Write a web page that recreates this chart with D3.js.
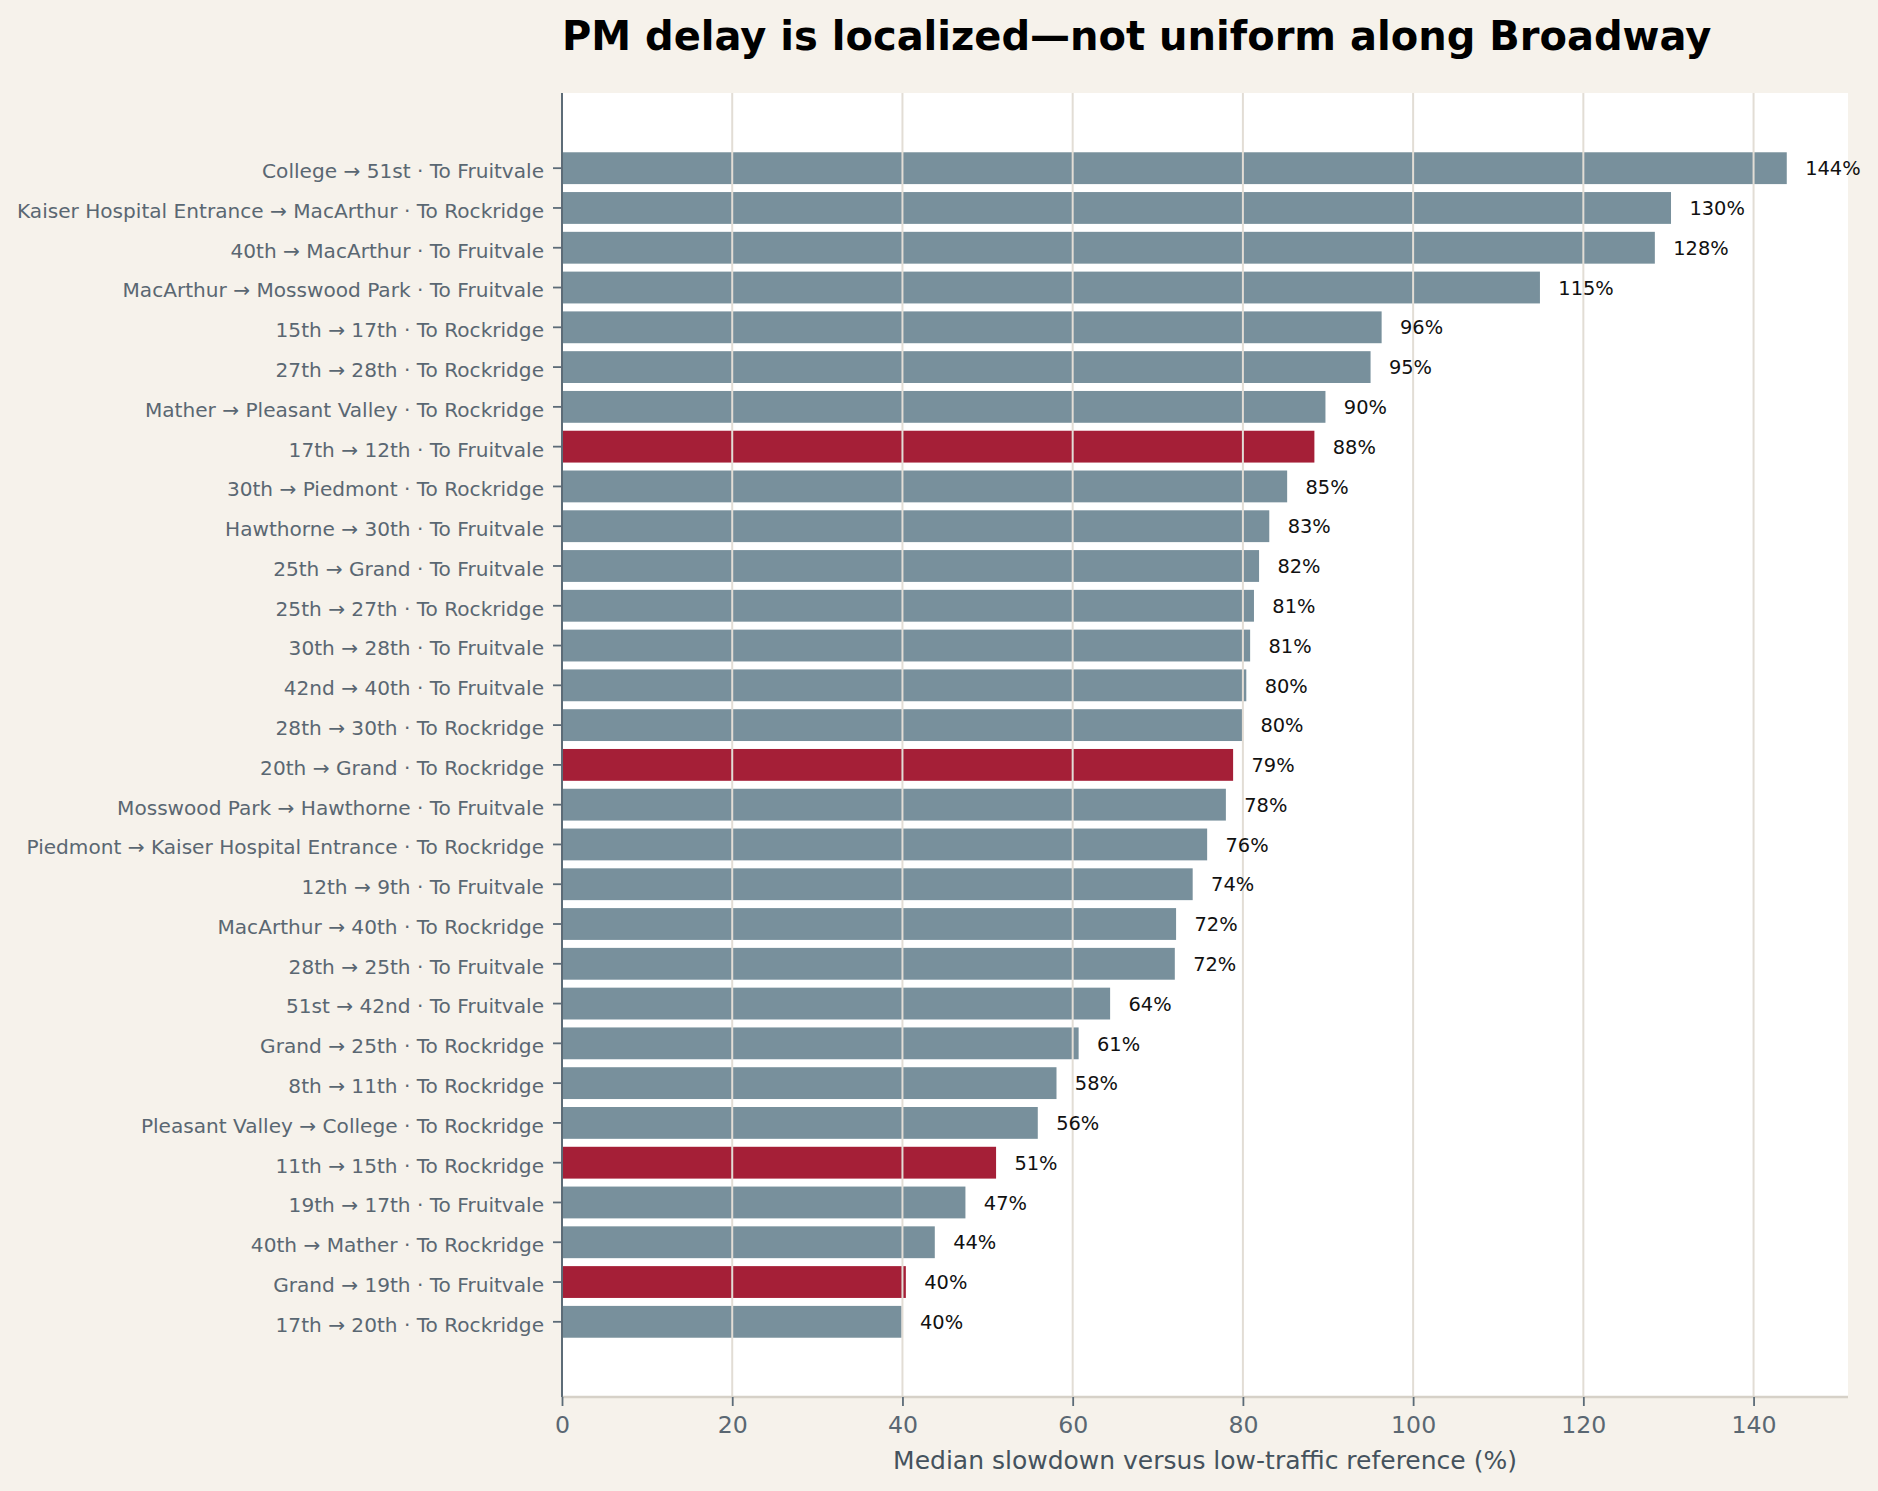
<!DOCTYPE html>
<html lang="en">
<head>
  <meta charset="UTF-8">
  <title>PM delay is localized</title>
  <script src="https://d3js.org/d3.v7.min.js"></script>
  <style>
    body {
      margin: 0;
      background-color: #f6f2eb;
      font-family: "DejaVu Sans", sans-serif;
    }
    svg { display: block; }
  </style>
</head>
<body>
  <div id="chart"></div>

  <script>
    const segments = [
      "College → 51st · To Fruitvale",
      "Kaiser Hospital Entrance → MacArthur · To Rockridge",
      "40th → MacArthur · To Fruitvale",
      "MacArthur → Mosswood Park · To Fruitvale",
      "15th → 17th · To Rockridge",
      "27th → 28th · To Rockridge",
      "Mather → Pleasant Valley · To Rockridge",
      "17th → 12th · To Fruitvale",
      "30th → Piedmont · To Rockridge",
      "Hawthorne → 30th · To Fruitvale",
      "25th → Grand · To Fruitvale",
      "25th → 27th · To Rockridge",
      "30th → 28th · To Fruitvale",
      "42nd → 40th · To Fruitvale",
      "28th → 30th · To Rockridge",
      "20th → Grand · To Rockridge",
      "Mosswood Park → Hawthorne · To Fruitvale",
      "Piedmont → Kaiser Hospital Entrance · To Rockridge",
      "12th → 9th · To Fruitvale",
      "MacArthur → 40th · To Rockridge",
      "28th → 25th · To Fruitvale",
      "51st → 42nd · To Fruitvale",
      "Grand → 25th · To Rockridge",
      "8th → 11th · To Rockridge",
      "Pleasant Valley → College · To Rockridge",
      "11th → 15th · To Rockridge",
      "19th → 17th · To Fruitvale",
      "40th → Mather · To Rockridge",
      "Grand → 19th · To Fruitvale",
      "17th → 20th · To Rockridge"
    ];

    const slowdown = [
      143.9, 130.3, 128.4, 114.9, 96.3, 95.0, 89.7, 88.4, 85.2, 83.1,
      81.9, 81.3, 80.85, 80.4, 79.9, 78.85, 78.0, 75.8, 74.1, 72.15,
      72.0, 64.4, 60.7, 58.1, 55.9, 51.0, 47.4, 43.8, 40.4, 39.9
    ];

    // segments drawn in the accent colour
    const highlighted = [
      "17th → 12th · To Fruitvale",
      "20th → Grand · To Rockridge",
      "11th → 15th · To Rockridge",
      "Grand → 19th · To Fruitvale"
    ];

    const xTicks = [0, 20, 40, 60, 80, 100, 120, 140];

    const data = segments.map((s, i) => ({ name: s, value: slowdown[i] }));

    const width = 1878, height = 1491;
    const margin = { top: 93, right: 30, bottom: 94, left: 562 };
    const plotW = width - margin.left - margin.right;
    const plotH = height - margin.top - margin.bottom;

    const svg = d3.select("#chart")
      .append("svg")
      .attr("width", width)
      .attr("height", height);

    svg.append("rect")
      .attr("width", width)
      .attr("height", height)
      .attr("fill", "#f6f2eb");

    const g = svg.append("g")
      .attr("transform", `translate(${margin.left},${margin.top})`);

    g.append("rect")
      .attr("width", plotW)
      .attr("height", plotH)
      .attr("fill", "#ffffff");

    const x = d3.scaleLinear()
      .domain([0, d3.max(slowdown) * 1.05])
      .range([0, plotW]);

    const y = d3.scaleBand()
      .domain(segments)
      .range([0, plotH])
      .paddingInner(0.2)
      .paddingOuter(1.49);

    // bars
    g.selectAll("rect.bar")
      .data(data)
      .enter()
      .append("rect")
      .attr("class", "bar")
      .attr("x", 0)
      .attr("y", d => y(d.name))
      .attr("width", d => x(d.value))
      .attr("height", y.bandwidth())
      .attr("fill", d => highlighted.includes(d.name) ? "#a51f37" : "#78909c");

    // vertical grid over the bars
    g.selectAll("line.grid")
      .data(xTicks.slice(1))
      .enter()
      .append("line")
      .attr("class", "grid")
      .attr("x1", d => x(d))
      .attr("x2", d => x(d))
      .attr("y1", 0)
      .attr("y2", plotH)
      .attr("stroke", "#e2ddd5")
      .attr("stroke-width", 2);

    // value labels
    const offset = x(d3.max(slowdown) * 0.015);
    g.selectAll("text.value")
      .data(data)
      .enter()
      .append("text")
      .attr("class", "value")
      .attr("x", d => x(d.value) + offset)
      .attr("y", d => y(d.name) + y.bandwidth() / 2)
      .attr("dy", "0.37em")
      .attr("font-size", "19.4px")
      .attr("fill", "#111111")
      .text(d => `${Math.round(d.value)}%`);

    // y axis
    const yAxis = g.append("g")
      .call(d3.axisLeft(y).tickSize(9).tickPadding(9));
    yAxis.select(".domain")
      .attr("stroke", "#5c6b77")
      .attr("stroke-width", 1.8)
      .attr("d", `M0,0V${plotH}`);
    yAxis.selectAll(".tick line")
      .attr("stroke", "#5c6b77")
      .attr("stroke-width", 1.8);
    yAxis.selectAll(".tick text")
      .attr("font-family", "DejaVu Sans, sans-serif")
      .attr("font-size", "20.1px")
      .attr("dy", "0.49em")
      .attr("fill", "#5a6772");

    // x axis
    const xAxis = g.append("g")
      .attr("transform", `translate(0,${plotH})`)
      .call(d3.axisBottom(x).tickValues(xTicks).tickSize(9).tickPadding(10));
    xAxis.select(".domain")
      .attr("stroke", "#d6d1c8")
      .attr("stroke-width", 2.4)
      .attr("d", `M0,0H${plotW}`);
    xAxis.selectAll(".tick line")
      .attr("stroke", "#5c6b77")
      .attr("stroke-width", 1.8);
    xAxis.selectAll(".tick text")
      .attr("font-family", "DejaVu Sans, sans-serif")
      .attr("font-size", "23.6px")
      .attr("fill", "#5a6772");

    // redraw left spine above the bottom spine
    g.append("line")
      .attr("x1", 0).attr("x2", 0)
      .attr("y1", 0).attr("y2", plotH)
      .attr("stroke", "#5c6b77")
      .attr("stroke-width", 1.8);

    // axis label
    svg.append("text")
      .attr("x", margin.left + plotW / 2)
      .attr("y", 1469)
      .attr("text-anchor", "middle")
      .attr("font-size", "25px")
      .attr("fill", "#45525d")
      .text("Median slowdown versus low-traffic reference (%)");

    // title
    svg.append("text")
      .attr("x", margin.left)
      .attr("y", 50)
      .attr("font-size", "40px")
      .attr("font-weight", "bold")
      .attr("fill", "#000000")
      .text("PM delay is localized—not uniform along Broadway");
  </script>
</body>
</html>
